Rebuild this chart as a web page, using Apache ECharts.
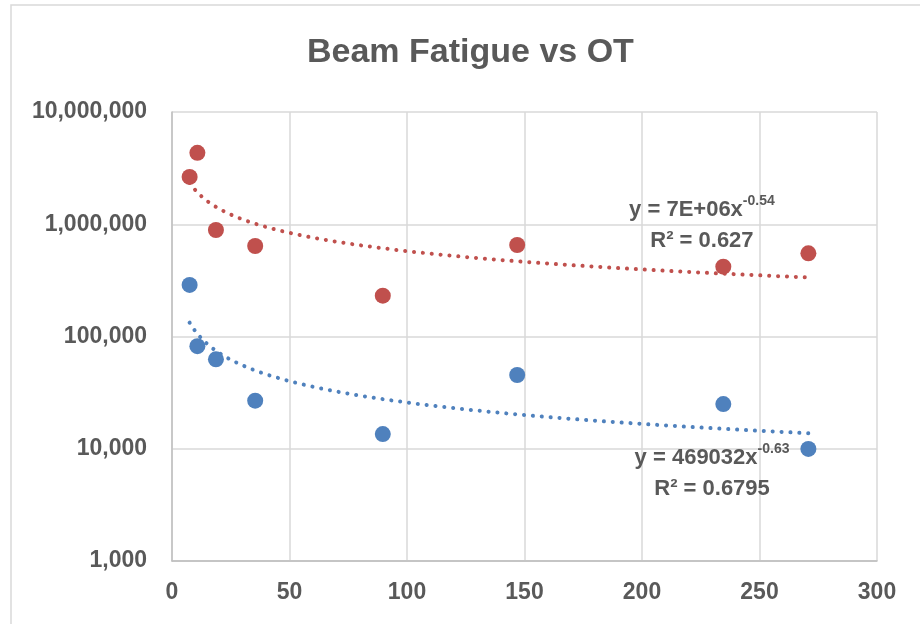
<!DOCTYPE html>
<html>
<head>
<meta charset="utf-8">
<script src="https://cdn.jsdelivr.net/npm/echarts@6/dist/echarts.min.js"></script>
<style>html,body{margin:0;padding:0;background:#fff}#c{width:920px;height:624px}</style>
</head>
<body>
<div id="c"></div>
<script>
// ---- data ----
var otValues = [7.5, 10.8, 18.7, 35.4, 89.7, 146.9, 234.6, 270.8];
var redFatigue = [2640000, 4330000, 889000, 640000, 231000, 653000, 419000, 551000];
var blueFatigue = [288000, 82000, 62600, 26800, 13500, 45400, 25000, 9960];
var xTicks = [0, 50, 100, 150, 200, 250, 300];
var yTicks = [1000, 10000, 100000, 1000000, 10000000];
var redEqText = ['y = 7E+06x', '-0.54', 'R² = 0.627'];
var blueEqText = ['y = 469032x', '-0.63', 'R² = 0.6795'];
var redEqAnchor = [225.5, 979000];
var blueEqAnchor = [229.8, 6030];

// power-law least squares fit (as the spreadsheet trendline does)
function powerFit(xs, ys) {
  var n = xs.length, lx = xs.map(Math.log), ly = ys.map(Math.log);
  var mx = lx.reduce(function(a,b){return a+b;},0)/n;
  var my = ly.reduce(function(a,b){return a+b;},0)/n;
  var sxy = 0, sxx = 0;
  for (var i=0;i<n;i++){ sxy += (lx[i]-mx)*(ly[i]-my); sxx += (lx[i]-mx)*(lx[i]-mx); }
  var b = sxy/sxx, a = Math.exp(my - b*mx);
  var pts = [], x0 = Math.min.apply(null, xs), x1 = Math.max.apply(null, xs);
  for (var k=0;k<=200;k++){ var x = x0 + (x1-x0)*k/200; pts.push([x, a*Math.pow(x,b)]); }
  return pts;
}
function pairs(xs, ys){ return xs.map(function(x,i){ return [x, ys[i]]; }); }

var FONT = 'Liberation Sans';
var TXT = '#595959';
var RED = '#C0504D', BLUE = '#4F81BD';

function eqLabel(t) {
  return {
    show: true, position: 'inside',
    formatter: '{a|' + t[0] + '}{s|' + t[1] + '}\n{a|' + t[2] + '}',
    rich: {
      a: {fontFamily: FONT, fontSize: 22, fontWeight: 'bold', color: TXT, lineHeight: 31},
      s: {fontFamily: FONT, fontSize: 14, fontWeight: 'bold', color: TXT, lineHeight: 19, verticalAlign: 'top'}
    }
  };
}

function fmt(v){ return String(Math.round(v)).replace(/\B(?=(\d{3})+(?!\d))/g, ','); }

var chart = echarts.init(document.getElementById('c'), null, {renderer: 'canvas'});
chart.setOption({
  animation: false,
  backgroundColor: '#fff',
  graphic: [{
    type: 'rect', silent: true, z: -1,
    shape: {x: 11, y: 5, width: 960, height: 700},
    style: {fill: 'none', stroke: '#D9D9D9', lineWidth: 1.5}
  }],
  title: {
    text: 'Beam Fatigue vs OT',
    left: 302, top: 31,
    textStyle: {fontFamily: FONT, fontSize: 34, fontWeight: 'bold', color: TXT}
  },
  grid: {left: 172, right: 43, top: 112, bottom: 63, containLabel: false},
  xAxis: {
    type: 'value', min: xTicks[0], max: xTicks[xTicks.length-1], interval: 50,
    axisLine: {show: true, lineStyle: {color: '#BFBFBF', width: 1.5}},
    axisTick: {show: false},
    splitLine: {show: true, lineStyle: {color: '#D9D9D9', width: 1.5}},
    axisLabel: {margin: 20, fontFamily: FONT, fontSize: 23, fontWeight: 'bold', color: TXT}
  },
  yAxis: {
    type: 'log', logBase: 10, min: yTicks[0], max: yTicks[yTicks.length-1],
    axisLine: {show: true, lineStyle: {color: '#BFBFBF', width: 1.5}},
    axisTick: {show: false},
    minorTick: {show: false},
    splitLine: {show: true, lineStyle: {color: '#D9D9D9', width: 1.5}},
    axisLabel: {margin: 25, fontFamily: FONT, fontSize: 23, fontWeight: 'bold', color: TXT, formatter: fmt}
  },
  series: [
    {
      type: 'line', data: powerFit(otValues, redFatigue), showSymbol: false, symbol: 'none',
      lineStyle: {color: RED, width: 4, type: [0.1, 8.8], cap: 'round'}, z: 2,
      markPoint: {symbol: 'circle', symbolSize: 0, data: [{coord: redEqAnchor, label: eqLabel(redEqText)}]}
    },
    {
      type: 'line', data: powerFit(otValues, blueFatigue), showSymbol: false, symbol: 'none',
      lineStyle: {color: BLUE, width: 4, type: [0.1, 8.8], cap: 'round'}, z: 2,
      markPoint: {symbol: 'circle', symbolSize: 0, data: [{coord: blueEqAnchor, label: eqLabel(blueEqText)}]}
    },
    {type: 'scatter', data: pairs(otValues, redFatigue), symbolSize: 16, itemStyle: {color: RED, opacity: 1}, z: 3},
    {type: 'scatter', data: pairs(otValues, blueFatigue), symbolSize: 16, itemStyle: {color: BLUE, opacity: 1}, z: 3}
  ]
});
</script>
</body>
</html>
